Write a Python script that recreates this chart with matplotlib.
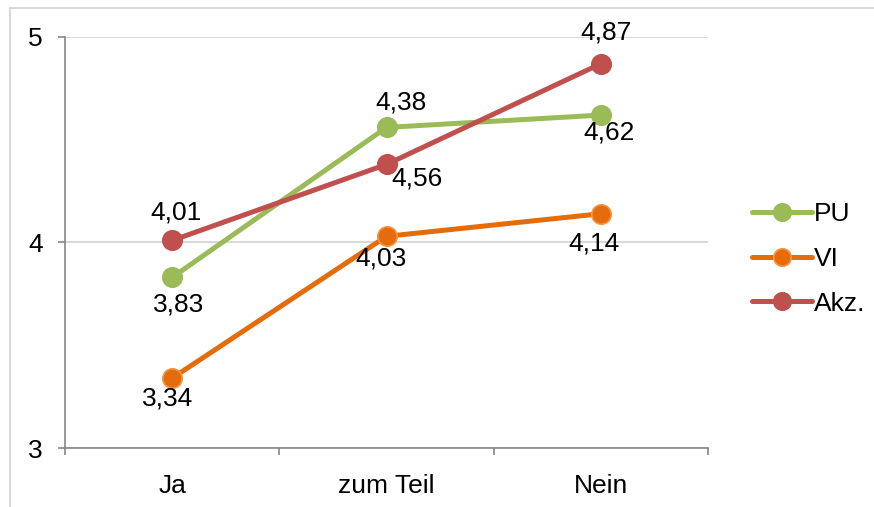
import matplotlib
matplotlib.use("Agg")
import matplotlib.pyplot as plt
from matplotlib.patches import Rectangle

plt.rcParams['font.family'] = ['Liberation Sans', 'DejaVu Sans']

categories = ["Ja", "zum Teil", "Nein"]
pu = [3.83, 4.56, 4.62]
vi = [3.34, 4.03, 4.14]
akz = [4.01, 4.38, 4.87]
series_names = ["PU", "VI", "Akz."]

# label offsets in pixels (dx, dy with dy pointing down), one per point
label_offsets = {
    "PU": [(6, 27), (31, 51), (8, 17)],
    "VI": [(-5, 20), (-6, 22), (-7, 30)],
    "Akz.": [(4, -28), (15, -62), (5, -31)],
}

colors = {"PU": "#9BBB59", "VI": "#E46C0A", "Akz.": "#C0504D"}
edges = {"PU": "#9BBB59", "VI": "#F79646", "Akz.": "#C0504D"}

fig = plt.figure(figsize=(8.74, 5.07), dpi=100)
ax = fig.add_axes([65 / 874, 1 - 448 / 507, (708 - 65) / 874, (448 - 37) / 507])

# outer chart border
fig.patches.append(Rectangle((10 / 874, -0.1), 1.2, 1.1 - 8 / 507,
                             transform=fig.transFigure, fill=False,
                             edgecolor="#D9D9D9", linewidth=1.5))

x = list(range(len(categories)))
fs = 19
px = 0.72  # points per pixel at 100 dpi

for name, vals in zip(series_names, [pu, vi, akz]):
    ax.plot(x, vals, color=colors[name], linewidth=3.6, marker="o",
            markersize=14, markerfacecolor=colors[name],
            markeredgecolor=edges[name], markeredgewidth=1.2,
            label=name, solid_capstyle="round", zorder=3)
    for xi, v, (dx, dy) in zip(x, vals, label_offsets[name]):
        ax.annotate(f"{v:.2f}".replace(".", ","), (xi, v),
                    xytext=(dx * px, -dy * px), textcoords="offset points",
                    ha="center", va="center", fontsize=fs, color="black",
                    zorder=4)

ax.set_xlim(-0.5, 2.5)
ax.set_ylim(3, 5)
ax.set_yticks([3, 4, 5])
ax.set_yticklabels(["3", "4", "5"])
ax.set_xticks(x)
ax.set_xticklabels(categories)
ax.set_xticks([-0.5, 0.5, 1.5, 2.5], minor=True)

ax.tick_params(axis="x", which="major", length=0, pad=19, labelsize=fs)
ax.tick_params(axis="x", which="minor", length=5, width=1.2, color="#868686",
               direction="out")
ax.tick_params(axis="y", length=5, width=1.2, color="#868686", pad=11,
               labelsize=fs)

ax.grid(axis="y", color="#D9D9D9", linewidth=1.5)
ax.set_axisbelow(True)
for side in ("top", "right"):
    ax.spines[side].set_visible(False)
for side in ("left", "bottom"):
    ax.spines[side].set_color("#868686")
    ax.spines[side].set_linewidth(1.2)

leg = ax.legend(loc="center left", bbox_to_anchor=(741 / 874, 1 - 259 / 507),
                bbox_transform=fig.transFigure, frameon=False, fontsize=fs,
                handlelength=2.3, handletextpad=0.05, labelspacing=0.78,
                borderaxespad=0, markerscale=0.9)

fig.savefig("out.png", dpi=100)
